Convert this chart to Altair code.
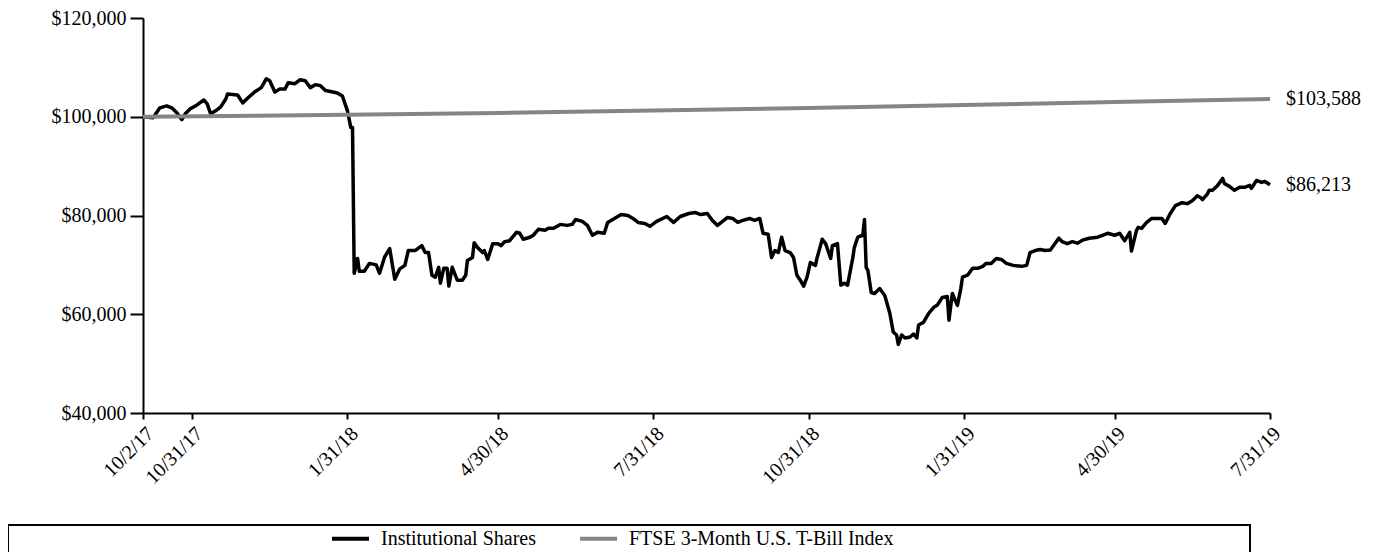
import altair as alt
import pandas as pd

# ---------------- data ----------------
start_date = "2017-10-02"

series_names = ["Institutional Shares", "FTSE 3-Month U.S. T-Bill Index"]
series_colors = ["#000000", "#858585"]

# days after 10/2/17, and value in thousands of dollars
inst_days = [
    0, 6, 10, 14, 17, 20, 23, 25, 28, 32,
    36, 38, 40, 43, 46, 49, 50, 56, 59, 62,
    66, 70, 73, 75, 78, 81, 84, 86, 90, 93,
    96, 99, 102, 105, 108, 111, 115, 118, 120, 121,
    123, 124, 125, 127, 128, 131, 134, 138, 140, 143,
    146, 149, 152, 155, 157, 161, 165, 167, 169, 171,
    173, 175, 176, 178, 180, 181, 183, 186, 189, 191,
    192, 195, 196, 198, 201, 202, 204, 207, 210, 212,
    214, 217, 221, 223, 225, 229, 231, 234, 238, 240,
    243, 247, 251, 254, 256, 260, 263, 266, 269, 273,
    275, 279, 283, 287, 290, 293, 297, 300, 304, 310,
    314, 318, 323, 327, 330, 334, 337, 340, 343, 346,
    349, 352, 355, 359, 362, 365, 367, 370, 372, 374,
    376, 378, 380, 383, 385, 387, 389, 391, 393, 395,
    398, 399, 402, 404, 407, 408, 411, 413, 415, 417,
    420, 421, 423, 426, 427, 428, 429, 431, 433, 436,
    439, 442, 444, 446, 447, 449, 451, 454, 456, 458,
    459, 462, 465, 468, 470, 473, 476, 477, 479, 482,
    484, 485, 488, 491, 494, 497, 499, 502, 505, 508,
    511, 515, 520, 523, 525, 528, 531, 534, 537, 542,
    544, 547, 550, 553, 556, 560, 565, 571, 575, 578,
    581, 584, 585, 588, 589, 591, 594, 597, 600, 603,
    605, 608, 611, 615, 618, 621, 624, 626, 627, 630,
    631, 633, 636, 639, 640, 643, 646, 649, 652, 655,
    656, 659, 662, 664, 667,
]
inst_values_k = [
    100.0, 99.8, 101.8, 102.2, 101.8, 100.8, 99.4, 100.6, 101.6, 102.4,
    103.4, 102.6, 100.6, 101.2, 102.0, 103.6, 104.6, 104.4, 102.8, 103.8,
    105.0, 105.9, 107.7, 107.3, 105.0, 105.6, 105.6, 106.9, 106.7, 107.5,
    107.3, 105.9, 106.5, 106.3, 105.3, 105.1, 104.8, 104.2, 102.2, 101.2,
    97.8, 97.8, 68.3, 71.3, 68.7, 68.7, 70.3, 70.0, 68.3, 71.6,
    73.3, 67.1, 69.2, 69.9, 72.9, 72.9, 73.9, 72.5, 72.5, 67.9,
    67.5, 69.5, 66.3, 69.3, 69.3, 65.7, 69.5, 66.9, 66.9, 67.9,
    70.9, 71.5, 74.5, 73.5, 72.5, 72.9, 71.1, 74.3, 74.3, 73.9,
    74.7, 74.9, 76.6, 76.4, 75.2, 75.6, 76.0, 77.2, 77.0, 77.4,
    77.4, 78.2, 78.0, 78.2, 79.2, 78.8, 78.0, 76.0, 76.6, 76.4,
    78.6, 79.4, 80.2, 80.0, 79.4, 78.6, 78.4, 77.8, 78.8, 79.8,
    78.6, 79.8, 80.4, 80.6, 80.2, 80.4, 79.0, 78.0, 78.8, 79.6,
    79.4, 78.6, 79.0, 79.4, 79.0, 79.4, 76.4, 76.2, 71.5, 72.9,
    72.5, 75.6, 72.9, 72.5, 71.5, 67.9, 66.9, 65.7, 67.5, 70.5,
    69.9, 71.5, 75.2, 74.3, 71.3, 73.9, 74.3, 65.9, 66.3, 65.9,
    71.3, 73.5, 75.6, 76.0, 79.2, 69.5, 68.9, 64.4, 64.2, 65.2,
    63.8, 60.2, 56.4, 55.8, 53.9, 55.8, 55.2, 55.4, 56.0, 55.2,
    57.8, 58.4, 60.2, 61.4, 61.8, 63.4, 63.6, 58.8, 64.2, 61.8,
    65.2, 67.5, 67.9, 69.3, 69.3, 69.7, 70.3, 70.3, 71.3, 71.1,
    70.3, 69.9, 69.7, 69.9, 72.5, 72.9, 73.1, 72.9, 73.0, 75.4,
    74.7, 74.3, 74.7, 74.4, 75.0, 75.4, 75.6, 76.4, 76.0, 76.4,
    74.9, 76.6, 72.8, 77.0, 77.6, 77.4, 78.6, 79.4, 79.4, 79.4,
    78.4, 80.4, 82.0, 82.6, 82.4, 83.0, 84.0, 83.6, 83.2, 84.4,
    85.1, 85.1, 86.1, 87.5, 86.5, 85.9, 85.1, 85.7, 85.7, 86.1,
    85.5, 87.1, 86.7, 86.9, 86.213,
]

tbill_days = [0, 121, 210, 302, 394, 486, 575, 667]
tbill_values = [100000, 100400, 100780, 101250, 101780, 102380, 102980, 103588]

tick_dates = ["2017-10-02", "2017-10-31", "2018-01-31", "2018-04-30", "2018-07-31",
              "2018-10-31", "2019-01-31", "2019-04-30", "2019-07-31"]
y_ticks = [40000, 60000, 80000, 100000, 120000]
y_domain = [40000, 120000]

# ---------------- tables ----------------
start = pd.Timestamp(start_date)
inst_df = pd.DataFrame({
    "date": start + pd.to_timedelta(inst_days, unit="D"),
    "value": [v * 1000 for v in inst_values_k],
    "series": series_names[0],
})
tbill_df = pd.DataFrame({
    "date": start + pd.to_timedelta(tbill_days, unit="D"),
    "value": tbill_values,
    "series": series_names[1],
})
end_df = pd.concat([tbill_df.tail(1), inst_df.tail(1)])


def dt(s):
    t = pd.Timestamp(s)
    return alt.DateTime(year=t.year, month=t.month, date=t.day)


FONT = "Liberation Serif"

x_enc = alt.X(
    "date:T",
    scale=alt.Scale(domain=[dt(tick_dates[0]), dt(tick_dates[-1])], nice=False),
    axis=alt.Axis(
        values=[dt(s) for s in tick_dates], format="%-m/%-d/%y", labelAngle=-45,
        title=None, grid=False, domainColor="black", domainWidth=2,
        tickColor="black", tickWidth=2, tickSize=6, labelFont=FONT,
        labelFontSize=20, labelColor="black", labelPadding=4, labelOverlap=False,
        labelBound=False, labelFlush=False,
    ),
)
y_enc = alt.Y(
    "value:Q",
    scale=alt.Scale(domain=y_domain, nice=False, zero=False),
    axis=alt.Axis(
        values=y_ticks, format="$,.0f", title=None, grid=False,
        domainColor="black", domainWidth=2, tickColor="black", tickWidth=2,
        tickSize=13, labelFont=FONT, labelFontSize=20, labelColor="black",
        labelPadding=4,
    ),
)
color_enc = alt.Color(
    "series:N",
    scale=alt.Scale(domain=series_names, range=series_colors),
    legend=alt.Legend(
        orient="none", legendX=187, legendY=500, direction="horizontal",
        title=None, symbolType="stroke", symbolSize=1369, symbolStrokeWidth=4,
        labelFont=FONT, labelFontSize=20, labelColor="black", labelOffset=10,
        columnPadding=36, padding=0, labelLimit=600,
    ),
)

black_line = alt.Chart(inst_df).mark_line(strokeWidth=3.5, strokeJoin="round").encode(
    x=x_enc, y=y_enc, color=color_enc
)
gray_line = alt.Chart(tbill_df).mark_line(strokeWidth=4, strokeJoin="round").encode(
    x=x_enc, y=y_enc, color=color_enc
)
end_labels = alt.Chart(end_df).mark_text(
    align="left", baseline="middle", dx=16, font=FONT, fontSize=20, color="black"
).encode(x="date:T", y="value:Q", text=alt.Text("value:Q", format="$,.0f"))

frame = alt.Chart(pd.DataFrame({"k": [0]})).mark_rect(
    fill=None, fillOpacity=0, stroke="black", strokeWidth=2
).encode(
    x=alt.value(-135), x2=alt.value(1107), y=alt.value(507), y2=alt.value(620)
)

chart = alt.layer(black_line, gray_line, end_labels, frame).properties(
    width=1127, height=395,
    padding={"left": 135, "top": 10, "right": 96, "bottom": 139},
    autosize="none",
).configure_view(stroke=None)

chart.save("out.html", embed_options={"renderer": "svg", "actions": False})
